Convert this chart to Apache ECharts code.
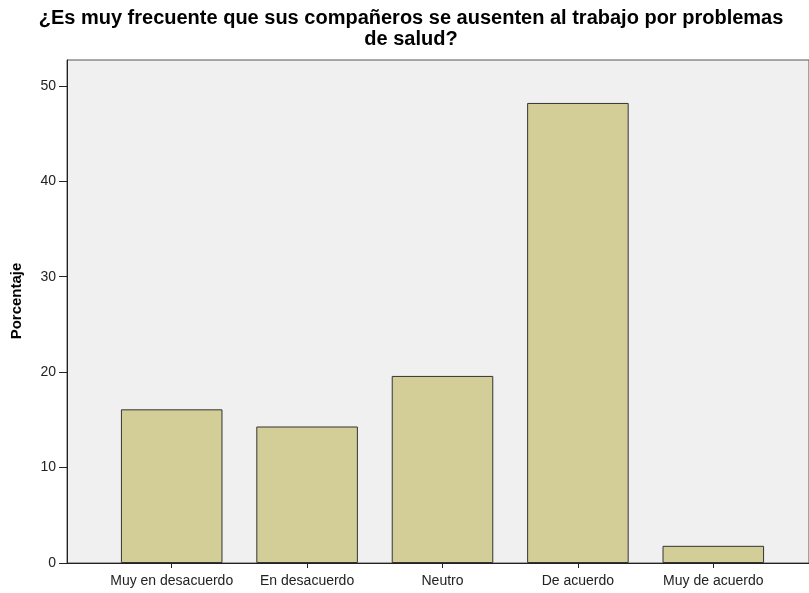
<!DOCTYPE html>
<html><head><meta charset="utf-8">
<script src="https://cdn.jsdelivr.net/npm/echarts@6/dist/echarts.min.js"></script>
<style>html,body{margin:0;padding:0;background:#fff}#c{width:809px;height:593px}</style>
</head><body><div id="c"></div>
<script>
const titleText = '¿Es muy frecuente que sus compañeros se ausenten al trabajo por problemas\nde salud?';
const categories = ['Muy en desacuerdo','En desacuerdo','Neutro','De acuerdo','Muy de acuerdo'];
const values = [16.1, 14.3, 19.6, 48.2, 1.8];
const yTitle = 'Porcentaje';
const font = '"Liberation Sans", Arial, sans-serif';
const chart = echarts.init(document.getElementById('c'), null, {renderer:'canvas'});
chart.setOption({
  animation:false,
  backgroundColor:'#ffffff',
  title:{text:titleText,left:406,textAlign:'center',top:3,
    textStyle:{fontFamily:font,fontSize:20,fontWeight:'bold',color:'#000',lineHeight:21}},
  graphic:[{type:'text',x:17,y:301,rotation:Math.PI/2,
    style:{text:yTitle,fontFamily:font,fontSize:15,fontWeight:'bold',fill:'#000',align:'center',verticalAlign:'middle'}}],
  grid:[
    {left:67,top:60,right:-2,bottom:30,show:true,backgroundColor:'#f0f0f0',borderColor:'#555',borderWidth:1},
    {left:104,top:60,width:677,bottom:30}
  ],
  xAxis:[
    {type:'value',gridIndex:0,min:0,max:1,axisLine:{show:true,onZero:false,lineStyle:{color:'#222',width:1}},
     axisTick:{show:false},axisLabel:{show:false},splitLine:{show:false}},
    {type:'category',gridIndex:1,data:categories,boundaryGap:true,
     axisLine:{show:false},axisTick:{show:true,alignWithLabel:true,length:5,lineStyle:{color:'#222'}},
     axisLabel:{fontFamily:font,fontSize:14,color:'#222',margin:11,interval:0}}
  ],
  yAxis:[
    {type:'value',gridIndex:0,min:0,max:52.7,interval:10,
     axisLine:{show:true,lineStyle:{color:'#222',width:1}},
     axisTick:{show:true,length:8,lineStyle:{color:'#222'}},
     axisLabel:{fontFamily:font,fontSize:14,color:'#222',margin:11,showMaxLabel:false},
     splitLine:{show:false}},
    {type:'value',gridIndex:1,min:0,max:52.7,show:false,splitLine:{show:false}}
  ],
  series:[{type:'bar',xAxisIndex:1,yAxisIndex:1,data:values,barWidth:'75%',
    itemStyle:{color:'#d3ce97',borderColor:'#333',borderWidth:1}}]
});
</script></body></html>
